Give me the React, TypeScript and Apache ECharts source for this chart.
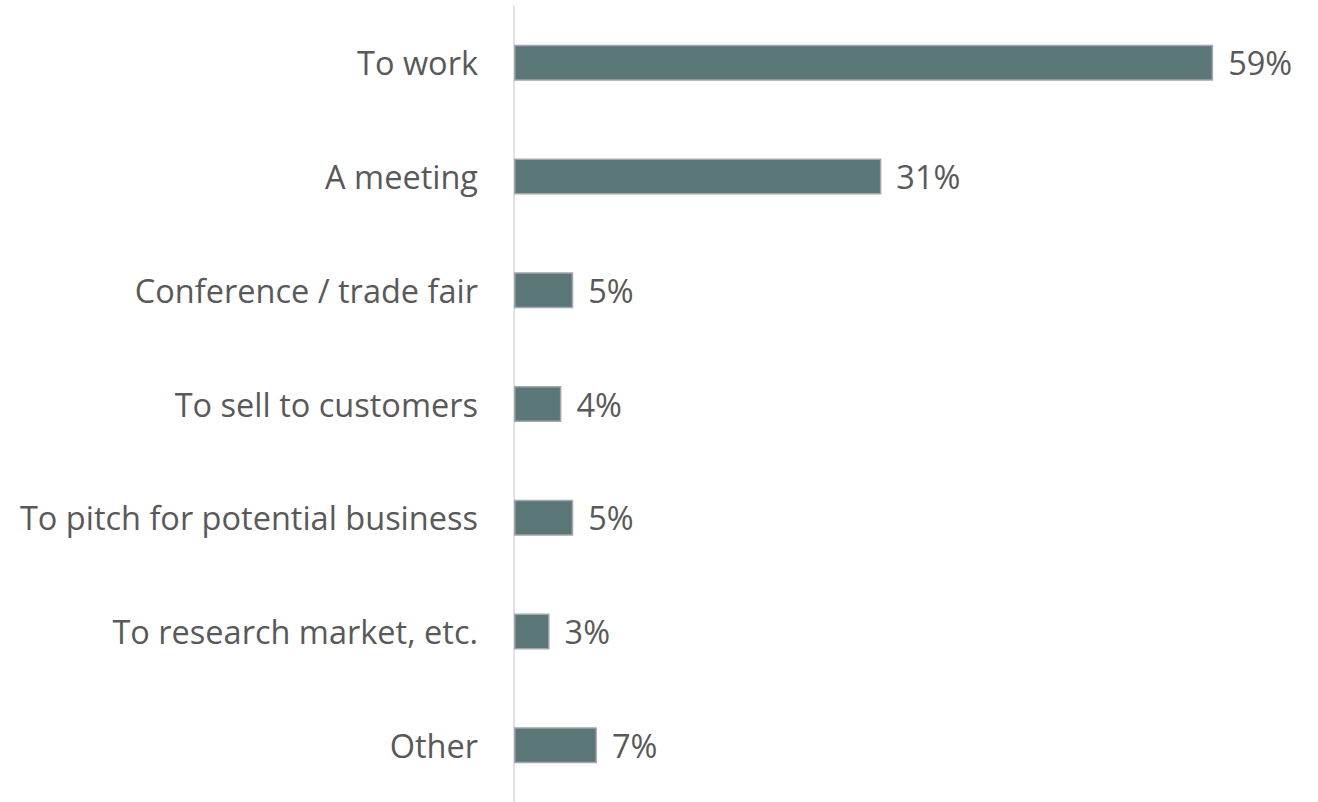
import React, { useEffect, useRef } from "react";
import * as echarts from "echarts";

const categories = [
  "To work",
  "A meeting",
  "Conference / trade fair",
  "To sell to customers",
  "To pitch for potential business",
  "To research market, etc.",
  "Other",
];
const values = [59, 31, 5, 4, 5, 3, 7];

export default function App() {
  const ref = useRef<HTMLDivElement>(null);
  useEffect(() => {
    if (!ref.current) return;
    const chart = echarts.init(ref.current, null, { renderer: "svg" });
    chart.setOption({
      animation: false,
      backgroundColor: "#ffffff",
      grid: { left: 514, right: 93, top: 6, bottom: 0, containLabel: false },
      xAxis: {
        type: "value",
        min: 0,
        max: 60,
        show: false,
      },
      yAxis: {
        type: "category",
        inverse: true,
        data: categories,
        axisLine: { show: true, lineStyle: { color: "#D9D9D9", width: 1.5 } },
        axisTick: { show: false },
        axisLabel: {
          margin: 36,
          color: "#595959",
          fontSize: 32.5,
          fontFamily: "Open Sans",
        },
        splitLine: { show: false },
      },
      series: [
        {
          type: "bar",
          data: values,
          barWidth: 36,
          itemStyle: {
            color: "#5B7677",
            borderColor: "#A3A6AA",
            borderWidth: 1.5,
          },
          label: {
            show: true,
            position: "right",
            distance: 15,
            formatter: "{c}%",
            color: "#595959",
            fontSize: 32.5,
            fontFamily: "Open Sans",
          },
        },
      ],
    });
    return () => chart.dispose();
  }, []);
  return (
    <div
      ref={ref}
      style={{ position: "fixed", left: 0, top: 0, width: 1318, height: 802 }}
    />
  );
}
